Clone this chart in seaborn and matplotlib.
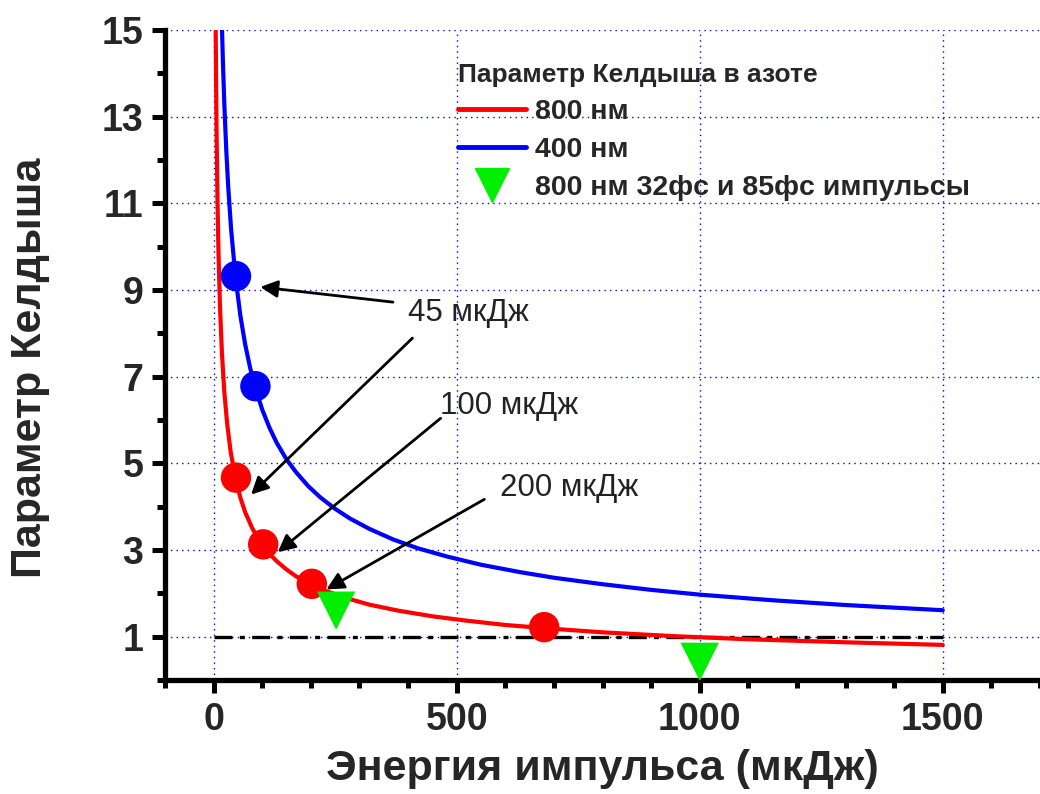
import numpy as np
import pandas as pd
import matplotlib
matplotlib.use("Agg")
import matplotlib.pyplot as plt
from matplotlib.lines import Line2D
from matplotlib.ticker import MultipleLocator, FixedLocator
import seaborn as sns

# ---- data ----
x800 = [4.3, 5, 6, 8, 10, 13, 17, 22, 28, 35, 45, 55, 65, 80, 100, 115, 130, 150, 170,
        200, 230, 270, 320, 380, 450, 520, 600, 700, 800, 950, 1100, 1300, 1500]
y800 = [15.0, 13.95, 12.74, 11.03, 9.87, 8.65, 7.57, 6.65, 5.90, 5.27, 4.65, 4.21,
        3.87, 3.49, 3.12, 2.91, 2.74, 2.55, 2.39, 2.21, 2.06, 1.90, 1.74, 1.60, 1.47,
        1.37, 1.27, 1.18, 1.10, 1.01, 0.94, 0.87, 0.81]
x400 = [17.3, 19, 22, 26, 30, 36, 45, 55, 65, 75, 85, 100, 115, 130, 150, 170, 195, 220,
        250, 280, 320, 370, 420, 480, 550, 630, 700, 800, 900, 1000, 1150, 1300, 1500]
y400 = [15.0, 14.32, 13.30, 12.24, 11.39, 10.40, 9.30, 8.41, 7.74, 7.21, 6.77, 6.24,
        5.82, 5.47, 5.09, 4.79, 4.47, 4.21, 3.95, 3.73, 3.49, 3.24, 3.04, 2.85, 2.66,
        2.49, 2.36, 2.21, 2.08, 1.97, 1.84, 1.73, 1.61]

pts800_x = [46, 102, 202, 680]
pts800_y = [4.67, 3.13, 2.22, 1.22]
pts400_x = [46, 86]
pts400_y = [9.32, 6.78]
tri_x = [252, 1000]
tri_y = [1.60, 0.42]

ref_x = [0, 1500]
ref_y = [1, 1]

ann_labels = ["45 мкДж", "100 мкДж", "200 мкДж"]
ann_text_xy = [(400, 8.47), (466, 6.33), (590, 4.44)]
arrows = [((369, 8.72), (96, 9.07)),
          ((409, 7.89), (77, 4.28)),
          ((467, 6.04), (132, 2.95)),
          ((557, 4.17), (232, 2.09))]

legend_title = "Параметр Келдыша в азоте"
legend_labels = ["800 нм", "400 нм", "800 нм 32фс и 85фс импульсы"]
xlabel = "Энергия импульса (мкДж)"
ylabel = "Параметр Келдыша"

# ---- style ----
sns.set_style("ticks")
plt.rcParams['font.family'] = ['Liberation Sans', 'DejaVu Sans']
plt.rcParams['axes.linewidth'] = 3.8
plt.rcParams['xtick.major.width'] = 3.6
plt.rcParams['ytick.major.width'] = 3.6
plt.rcParams['xtick.minor.width'] = 3.6
plt.rcParams['ytick.minor.width'] = 3.6

fig = plt.figure(figsize=(10.4, 7.94), dpi=100)
ax = fig.add_axes([165/1040, 1-680/794, 1-165/1040, (680-30)/794])

df800 = pd.DataFrame({"x": x800, "y": y800})
df400 = pd.DataFrame({"x": x400, "y": y400})

sns.lineplot(data=df800, x="x", y="y", ax=ax, color="#ff0000", lw=3, zorder=3,
             sort=False, estimator=None)
sns.lineplot(data=df400, x="x", y="y", ax=ax, color="#0000ff", lw=3, zorder=3,
             sort=False, estimator=None)
ax.plot(ref_x, ref_y, color="black", lw=2.4, linestyle=(0, (5.4, 2.2, 1.5, 2.2)),
        zorder=2)

sns.scatterplot(x=pts800_x, y=pts800_y, ax=ax, color="#ff0000", s=480,
                edgecolor="none", zorder=4)
sns.scatterplot(x=pts400_x, y=pts400_y, ax=ax, color="#0000ff", s=480,
                edgecolor="none", zorder=4)
sns.scatterplot(x=tri_x, y=tri_y, ax=ax, color="#00ee00", marker="v", s=760,
                edgecolor="none", zorder=4)

# arrows and labels
for (tail, head) in arrows:
    ax.annotate("", xy=head, xytext=tail,
                arrowprops=dict(arrowstyle="-|>", color="black", lw=2.0,
                                mutation_scale=26, shrinkA=0, shrinkB=0),
                zorder=5)
for lab, (tx, ty) in zip(ann_labels, ann_text_xy):
    ax.text(tx, ty, lab, fontsize=22.5, color="#222222", ha="left", va="center")

# axes
ax.set_xlim(-100, 1700)
ax.set_ylim(0, 15)
ax.xaxis.set_major_locator(FixedLocator([0, 500, 1000, 1500]))
ax.xaxis.set_minor_locator(MultipleLocator(100))
ax.yaxis.set_major_locator(FixedLocator([1, 3, 5, 7, 9, 11, 13, 15]))
ax.yaxis.set_minor_locator(FixedLocator([0, 2, 4, 6, 8, 10, 12, 14]))
ax.tick_params(which="major", direction="out", length=9.5, width=3.6,
               labelsize=27, pad=6, color="black")
ax.tick_params(which="minor", direction="out", length=5.5, width=3.6, color="black")
for lbl in ax.get_xticklabels() + ax.get_yticklabels():
    lbl.set_fontweight("bold")
ax.spines["top"].set_visible(False)
ax.spines["right"].set_visible(False)
for side in ("left", "bottom"):
    ax.spines[side].set_linewidth(3.8)
    ax.spines[side].set_color("black")
    ax.spines[side].set_capstyle("projecting")
ax.grid(True, which="major", color="#0000ff", linestyle=(0, (1, 3)), lw=1.0)
ax.set_axisbelow(True)

ax.set_xlabel(xlabel, fontsize=31, fontweight="bold", labelpad=8)
ax.set_ylabel(ylabel, fontsize=31, fontweight="bold", labelpad=38)
ax.yaxis.set_label_coords(-0.131, 0.48)

handles = [Line2D([], [], color="#ff0000", lw=3.5),
           Line2D([], [], color="#0000ff", lw=3.5),
           Line2D([], [], color="#00ee00", marker="v", markersize=24, lw=0)]
leg = ax.legend(handles, legend_labels, title=legend_title, loc="upper left",
                bbox_to_anchor=(458/1040, 1 - 63/794), bbox_transform=fig.transFigure,
                frameon=False, prop={"weight": "bold", "size": 20.5},
                title_fontproperties={"weight": "bold", "size": 19},
                handlelength=2.4, handletextpad=0.3, labelspacing=0.42,
                alignment="left", borderaxespad=0, borderpad=0)

fig.savefig("out.png", dpi=100)
